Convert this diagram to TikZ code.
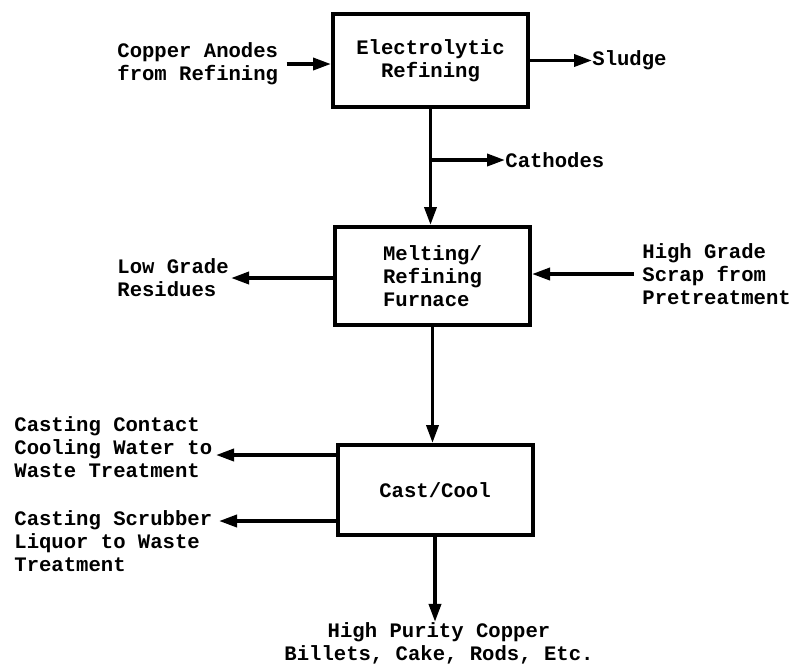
\documentclass[tikz,border=0pt]{standalone}
\usepackage{fontspec}
\setmonofont{Liberation Mono}
\usetikzlibrary{arrows.meta}

\begin{document}
\begin{tikzpicture}[x=.5pt,y=-.5pt,
  font=\ttfamily\bfseries\fontsize{10.3}{11.4}\selectfont,
  every node/.style={inner sep=0pt},
  unit/.style={draw,line width=2pt,minimum width=97.5pt,align=center},
  stream/.style={anchor=west,align=left},
  flow/.style={line width=1.8pt,-{Triangle[length=9pt,width=6pt]}}]
  \path[use as bounding box] (0,0) rectangle (794,666);

  % Process units; text streams in and out round them.
  \node[unit,minimum height=46.5pt] (refine) at (430.5,60.5) {Electrolytic\\Refining};
  \node[unit,minimum height=49pt,align=left] (furnace) at (432.5,276) {Melting/\\Refining\\Furnace};
  \node[unit,minimum height=45pt] (cast) at (435,490) {Cast/Cool};

  \node[stream] (anodes) at (117,64) {Copper Anodes\\from Refining};
  \node[stream] (sludge) at (592,60.5) {Sludge};
  \node[stream] (cathodes) at (505,160) {Cathodes};
  \node[stream] (lowgrade) at (117,278) {Low Grade\\Residues};
  \node[stream] (scrap) at (642,274) {High Grade\\Scrap from\\Pretreatment};
  \node[stream] (contact) at (14,447) {Casting Contact\\Cooling Water to\\Waste Treatment};
  \node[stream] (scrubber) at (14,541) {Casting Scrubber\\Liquor to Waste\\Treatment};
  \node[align=center] (product) at (439,643) {High Purity Copper\\Billets, Cake, Rods, Etc.};

  \draw[flow] ([xshift=4pt]anodes.east) -- (refine.west|-anodes.east);
  \draw[flow] (refine.east) -- (sludge.west);
  \draw[flow] (refine.south) -- (refine.south|-furnace.north);
  \coordinate (tap) at (refine.south|-cathodes.west);
  \draw[flow] (tap) -- (cathodes.west);
  \draw[flow] ([xshift=-4pt]scrap.west) -- (furnace.east|-scrap.west);
  \draw[flow] (furnace.west|-lowgrade.east) -- ([xshift=1pt]lowgrade.east);
  \draw[flow] (furnace.south) -- (furnace.south|-cast.north);
  \coordinate (contactend) at (216,455);
  \draw[flow] (cast.west|-contactend) -- (contactend);
  \coordinate (scrubend) at (219,521);
  \draw[flow] (cast.west|-scrubend) -- (scrubend);
  \draw[flow] (cast.south) -- (cast.south|-product.north);
\end{tikzpicture}
\end{document}
